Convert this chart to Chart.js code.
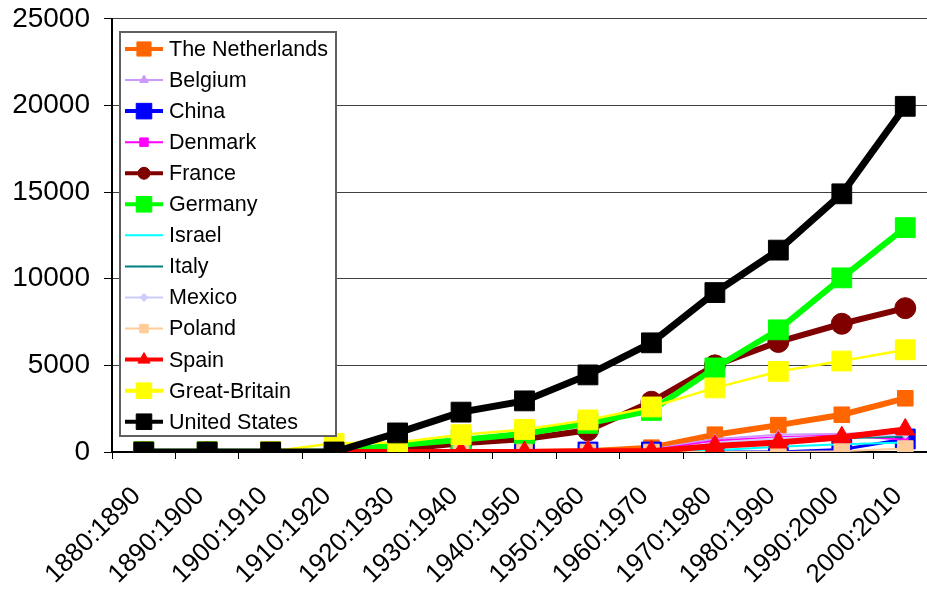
<!DOCTYPE html>
<html>
<head>
<meta charset="utf-8">
<script src="https://cdn.jsdelivr.net/npm/chart.js@4.4.1/dist/chart.umd.min.js"></script>
<style>
    html, body { margin: 0; padding: 0; background: #fff; overflow: hidden; }
    #wrap { width: 952px; height: 604px; margin-top: -12px; }
</style>
</head>
<body>
<div id="wrap"><canvas id="growthChart" width="952" height="604"></canvas></div>
<script>
// Decades on the category axis
const decades = ['1880:1890', '1890:1900', '1900:1910', '1910:1920', '1920:1930', '1930:1940',
    '1940:1950', '1950:1960', '1960:1970', '1970:1980', '1980:1990', '1990:2000', '2000:2010'];

// Values per country, one entry per decade
const netherlands = [0, 0, 0, 0, 0, 0, 0, 50, 250, 1000, 1550, 2150, 3100];
const belgium     = [0, 0, 0, 0, 0, 0, 0, 0, 150, 750, 1000, 1050, 1150];
const china       = [0, 0, 0, 0, 0, 0, 0, 0, 0, 0, 0, 150, 750];
const denmark     = [0, 0, 0, 0, 0, 0, 0, 0, 100, 650, 850, 950, 700];
const france      = [0, 0, 0, 0, 150, 500, 750, 1250, 2900, 5000, 6350, 7400, 8300];
const germany     = [20, 20, 20, 20, 400, 700, 1050, 1650, 2400, 4850, 7050, 10050, 12950];
const israel      = [0, 0, 0, 0, 0, 0, 0, 0, 0, 100, 300, 450, 550];
const italy       = [0, 0, 0, 0, 0, 0, 0, 0, 100, 400, 600, 800, 900];
const mexico      = [0, 0, 0, 0, 0, 0, 0, 0, 50, 550, 800, 900, 1000];
const poland      = [0, 0, 0, 0, 0, 0, 0, 0, 0, 0, 0, 50, 200];
const spain       = [0, 0, 0, 0, 0, 0, 0, 50, 50, 350, 550, 850, 1300];
const greatBritain = [0, 0, 30, 500, 550, 1000, 1300, 1850, 2600, 3700, 4650, 5250, 5900];
const unitedStates = [0, 0, 0, 0, 1100, 2300, 2950, 4450, 6300, 9200, 11650, 14900, 19950];

// Y axis ticks
const yTicks = [0, 5000, 10000, 15000, 20000, 25000];

const FONT = "'Liberation Sans', Arial, sans-serif";

// name, data, color, marker, line width, marker radius, legend line width, legend marker radius
const series = [
    ['The Netherlands', netherlands, '#FF6600', 'rect', 6, 11, 4, 10],
    ['Belgium', belgium, '#CC99FF', 'triangle', 2, 5, 2, 5],
    ['China', china, '#0000FF', 'rect', 3, 14, 4, 11],
    ['Denmark', denmark, '#FF00FF', 'rect', 2, 4, 2, 6],
    ['France', france, '#800000', 'circle', 6, 10.5, 4, 6],
    ['Germany', germany, '#00FF00', 'rect', 6, 14, 4, 11],
    ['Israel', israel, '#00FFFF', 'line', 2, 4, 2, 3],
    ['Italy', italy, '#008080', 'line', 2, 4, 2, 3],
    ['Mexico', mexico, '#CCCCFF', 'rectRot', 2, 4, 2, 4],
    ['Poland', poland, '#FFCC99', 'rect', 2, 11, 2, 6],
    ['Spain', spain, '#FF0000', 'triangle', 6, 11, 4, 7],
    ['Great-Britain', greatBritain, '#FFFF00', 'rect', 2.5, 14, 4, 11],
    ['United States', unitedStates, '#000000', 'rect', 7, 14, 4, 11]
];

const datasets = series.map(([label, data, color, style, lw, r, legW, legR], i) => ({
    label,
    data,
    borderColor: color,
    backgroundColor: color,
    borderWidth: lw,
    pointStyle: style,
    pointRadius: r,
    pointBorderWidth: 1,
    pointBackgroundColor: color,
    pointBorderColor: color,
    tension: 0,
    // later series sit on top
    order: series.length - i,
    legendWidth: legW,
    legendRadius: legR
}));

// Boxed legend inside the plot, drawn over the lines (canvas is shifted up 12px)
const boxLegend = {
    id: 'boxLegend',
    afterDatasetsDraw(chart) {
        const ctx = chart.ctx;
        const top = 12;
        ctx.save();
        ctx.fillStyle = '#ffffff';
        ctx.fillRect(120, top + 32, 216, 404);
        ctx.strokeStyle = '#606060';
        ctx.lineWidth = 2;
        ctx.strokeRect(120, top + 32, 216, 404);

        ctx.font = '21.5px ' + FONT;
        ctx.textBaseline = 'middle';
        ctx.textAlign = 'left';
        chart.data.datasets.forEach((ds, i) => {
            const y = top + 49 + i * 31.06;
            ctx.strokeStyle = ds.borderColor;
            ctx.fillStyle = ds.borderColor;
            ctx.lineWidth = ds.legendWidth;
            ctx.beginPath();
            ctx.moveTo(125, y);
            ctx.lineTo(163, y);
            ctx.stroke();
            ctx.lineWidth = 1;
            Chart.helpers.drawPoint(ctx, {
                pointStyle: ds.pointStyle,
                rotation: 0,
                radius: ds.legendRadius,
                borderWidth: ds.pointStyle === 'line' ? 3 : 1
            }, 144, y);
            ctx.fillStyle = '#000000';
            ctx.fillText(ds.label, 169, y + 1);
        });
        ctx.restore();
    }
};

new Chart(document.getElementById('growthChart'), {
    type: 'line',
    data: { labels: decades, datasets },
    plugins: [boxLegend],
    options: {
        responsive: false,
        animation: false,
        devicePixelRatio: 1,
        layout: { padding: { top: 5, right: 5, left: 0, bottom: 0 } },
        plugins: {
            legend: { display: false },
            tooltip: { enabled: false }
        },
        scales: {
            x: {
                offset: true,
                afterFit: (scale) => { scale.height = 140; },
                grid: {
                    display: true,
                    offset: true,
                    drawOnChartArea: false,
                    drawTicks: true,
                    tickLength: 7,
                    tickColor: '#000'
                },
                border: { color: '#000', width: 2 },
                ticks: {
                    minRotation: 45,
                    maxRotation: 45,
                    color: '#000',
                    padding: 22,
                    labelOffset: -7,
                    font: { family: FONT, size: 26 }
                }
            },
            y: {
                min: yTicks[0],
                max: yTicks[yTicks.length - 1],
                afterFit: (scale) => { scale.width = 112; },
                afterBuildTicks: (scale) => { scale.ticks = yTicks.map(v => ({ value: v })); },
                grid: {
                    color: '#404040',
                    lineWidth: 1,
                    tickLength: 8,
                    tickColor: '#000'
                },
                border: { color: '#000', width: 2 },
                ticks: {
                    color: '#000',
                    padding: 14,
                    font: { family: FONT, size: 28 },
                    callback: (value) => String(value)
                }
            }
        }
    }
});
</script>
</body>
</html>
